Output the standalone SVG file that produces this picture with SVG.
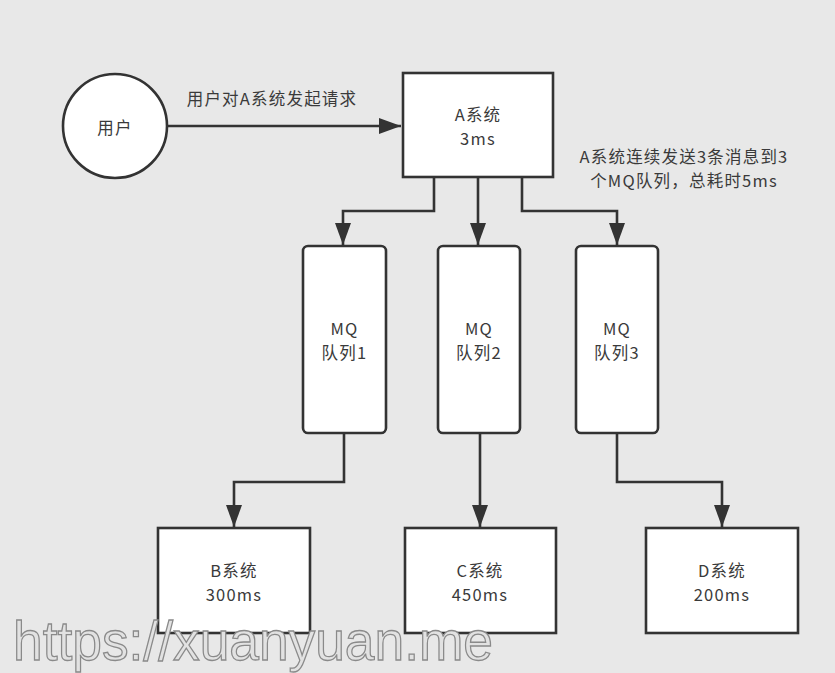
<svg xmlns="http://www.w3.org/2000/svg" width="835" height="673" viewBox="0 0 835 673">
<style>
.t{font-family:"Microsoft YaHei","Noto Sans CJK SC","Noto Sans",sans-serif;font-size:16.5px;letter-spacing:1.2px;fill:#3a3a3a;text-anchor:middle}
.box{fill:#fff;stroke:#333;stroke-width:2.6}
.c{fill:none;stroke:#333;stroke-width:2.6}
.wm{font-family:"Liberation Sans",Arial,sans-serif;font-size:56px;fill:#e2e2e2;stroke:#8a8a8a;stroke-width:1.3}
</style>
<defs>
<marker id="ah" markerUnits="userSpaceOnUse" markerWidth="24" markerHeight="18" refX="22" refY="8" orient="auto">
<path d="M0,0 L22,8 L0,16 Z" fill="#333"/>
</marker>
</defs>
<rect width="835" height="673" fill="#e8e8e8"/>
<g id="connectors">
<path class="c" d="M168,126 L401,126" marker-end="url(#ah)"/>
<path class="c" d="M434,177 L434,211 L343,211 L343,245" marker-end="url(#ah)"/>
<path class="c" d="M478,177 L478,245" marker-end="url(#ah)"/>
<path class="c" d="M522,177 L522,211 L617,211 L617,245" marker-end="url(#ah)"/>
<path class="c" d="M344,433 L344,482 L234,482 L234,527" marker-end="url(#ah)"/>
<path class="c" d="M480,433 L480,527" marker-end="url(#ah)"/>
<path class="c" d="M617,433 L617,482 L722,482 L722,527" marker-end="url(#ah)"/>
</g>
<text class="t" x="272" y="105">用户对A系统发起请求</text>
<text class="t" x="684" y="163">A系统连续发送3条消息到3</text>
<text class="t" x="684" y="187">个MQ队列，总耗时5ms</text>
<g id="user">
<circle cx="115" cy="126" r="52" class="box"/>
<text class="t" x="115" y="134">用户</text>
</g>
<g id="sysA">
<rect x="403" y="73" width="150" height="104" class="box"/>
<text class="t" x="478" y="121">A系统</text>
<text class="t" x="478" y="145">3ms</text>
</g>
<g id="mq1">
<rect x="303" y="246" width="83" height="187" rx="5" class="box"/>
<text class="t" x="344.5" y="335">MQ</text>
<text class="t" x="344.5" y="359">队列1</text>
</g>
<g id="mq2">
<rect x="438" y="246" width="82" height="187" rx="5" class="box"/>
<text class="t" x="479" y="335">MQ</text>
<text class="t" x="479" y="359">队列2</text>
</g>
<g id="mq3">
<rect x="576" y="246" width="82" height="187" rx="5" class="box"/>
<text class="t" x="617" y="335">MQ</text>
<text class="t" x="617" y="359">队列3</text>
</g>
<g id="sysB">
<rect x="158" y="528" width="152" height="105" class="box"/>
<text class="t" x="234" y="577">B系统</text>
<text class="t" x="234" y="601">300ms</text>
</g>
<g id="sysC">
<rect x="405" y="528" width="151" height="105" class="box"/>
<text class="t" x="480" y="577">C系统</text>
<text class="t" x="480" y="601">450ms</text>
</g>
<g id="sysD">
<rect x="646" y="528" width="152" height="105" class="box"/>
<text class="t" x="722" y="577">D系统</text>
<text class="t" x="722" y="601">200ms</text>
</g>
<text class="wm" x="13" y="660" textLength="480" lengthAdjust="spacingAndGlyphs">https://xuanyuan.me</text>
</svg>
